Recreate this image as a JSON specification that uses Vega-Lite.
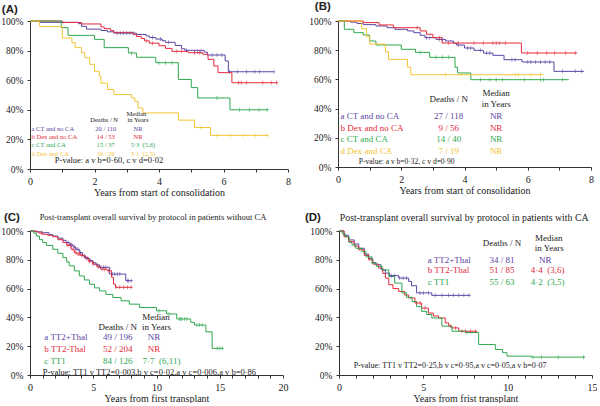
{
"$schema": "https://vega.github.io/schema/vega-lite/v6.json",
"background": "white",
"padding": {"left": 0, "top": 0, "right": 0, "bottom": 0},
"spacing": 15,
"config": {
 "font": "Liberation Serif",
 "view": {"stroke": null},
 "axis": {"grid": false, "domainColor": "#333", "tickColor": "#333", "tickSize": 3, "labelFont": "Liberation Serif", "labelFontSize": 10, "labelColor": "#222", "titleFont": "Liberation Serif", "titleFontSize": 10, "titleFontWeight": "normal", "titleColor": "#222", "labelPadding": 4},
 "axisX": {"titlePadding": 1, "labelFlush": false, "labelOverlap": false},
 "axisY": {"labelPadding": 4, "labelFontSize": 9.5},
 "title": {"font": "Liberation Sans", "fontWeight": "bold", "fontSize": 11.5, "anchor": "start", "color": "#222", "frame": "bounds"},
 "text": {"font": "Liberation Serif", "baseline": "middle"},
 "tick": {"yOffset": -1.2}
},
"datasets": {
 "curves": [
  {"p":"A","g":"a","t":0,"s":100},{"p":"A","g":"a","t":0.3,"s":99.1},{"p":"A","g":"a","t":1.5,"s":98.2},{"p":"A","g":"a","t":1.6,"s":96.4},{"p":"A","g":"a","t":1.75,"s":94.5},{"p":"A","g":"a","t":2.2,"s":93.6},{"p":"A","g":"a","t":2.4,"s":92.7},{"p":"A","g":"a","t":2.6,"s":91.8},{"p":"A","g":"a","t":3.3,"s":90.9},{"p":"A","g":"a","t":3.6,"s":89.9},{"p":"A","g":"a","t":3.7,"s":88.9},{"p":"A","g":"a","t":3.9,"s":87.8},{"p":"A","g":"a","t":4.1,"s":86.7},{"p":"A","g":"a","t":4.2,"s":85.6},{"p":"A","g":"a","t":4.5,"s":83.5},{"p":"A","g":"a","t":4.7,"s":81.3},{"p":"A","g":"a","t":4.8,"s":80.2},{"p":"A","g":"a","t":5.4,"s":79},{"p":"A","g":"a","t":5.5,"s":77},{"p":"A","g":"a","t":6.05,"s":73},{"p":"A","g":"a","t":6.15,"s":65.7},{"p":"A","g":"a","t":7.57,"s":65.7},
  {"p":"A","g":"b","t":0,"s":100},{"p":"A","g":"b","t":1.0,"s":99},{"p":"A","g":"b","t":1.6,"s":98},{"p":"A","g":"b","t":2.2,"s":96},{"p":"A","g":"b","t":2.3,"s":94.8},{"p":"A","g":"b","t":2.5,"s":93.5},{"p":"A","g":"b","t":2.6,"s":92.3},{"p":"A","g":"b","t":3.2,"s":91},{"p":"A","g":"b","t":3.3,"s":89.6},{"p":"A","g":"b","t":3.45,"s":88.2},{"p":"A","g":"b","t":3.55,"s":86.6},{"p":"A","g":"b","t":3.7,"s":85},{"p":"A","g":"b","t":4.0,"s":83.3},{"p":"A","g":"b","t":4.2,"s":81.5},{"p":"A","g":"b","t":4.4,"s":79.5},{"p":"A","g":"b","t":4.9,"s":78.6},{"p":"A","g":"b","t":5.36,"s":77.5},{"p":"A","g":"b","t":5.52,"s":74.1},{"p":"A","g":"b","t":5.7,"s":69.6},{"p":"A","g":"b","t":5.83,"s":65.1},{"p":"A","g":"b","t":6.26,"s":58.3},{"p":"A","g":"b","t":7.69,"s":58.3},
  {"p":"A","g":"c","t":0,"s":100},{"p":"A","g":"c","t":0.97,"s":95.5},{"p":"A","g":"c","t":1.18,"s":90.3},{"p":"A","g":"c","t":2.0,"s":87.6},{"p":"A","g":"c","t":2.3,"s":82},{"p":"A","g":"c","t":3.05,"s":78.4},{"p":"A","g":"c","t":3.3,"s":75.5},{"p":"A","g":"c","t":3.9,"s":71.8},{"p":"A","g":"c","t":4.6,"s":60.5},{"p":"A","g":"c","t":5.0,"s":55},{"p":"A","g":"c","t":5.2,"s":48},{"p":"A","g":"c","t":6.2,"s":40},{"p":"A","g":"c","t":7.4,"s":40},
  {"p":"A","g":"d","t":0,"s":100},{"p":"A","g":"d","t":0.3,"s":96.2},{"p":"A","g":"d","t":1.0,"s":88.5},{"p":"A","g":"d","t":1.3,"s":85.3},{"p":"A","g":"d","t":1.4,"s":82},{"p":"A","g":"d","t":1.6,"s":78.5},{"p":"A","g":"d","t":1.7,"s":75.2},{"p":"A","g":"d","t":1.85,"s":70.7},{"p":"A","g":"d","t":2.0,"s":66},{"p":"A","g":"d","t":2.15,"s":62.8},{"p":"A","g":"d","t":2.2,"s":58},{"p":"A","g":"d","t":2.4,"s":53.7},{"p":"A","g":"d","t":2.6,"s":50.3},{"p":"A","g":"d","t":3.15,"s":48},{"p":"A","g":"d","t":3.25,"s":45.8},{"p":"A","g":"d","t":3.35,"s":41.3},{"p":"A","g":"d","t":3.5,"s":37.9},{"p":"A","g":"d","t":4.6,"s":33},{"p":"A","g":"d","t":5.1,"s":28},{"p":"A","g":"d","t":5.6,"s":22.7},{"p":"A","g":"d","t":7.4,"s":22.7},
  {"p":"B","g":"a","t":0,"s":100},{"p":"B","g":"a","t":0.4,"s":99.2},{"p":"B","g":"a","t":0.6,"s":98.3},{"p":"B","g":"a","t":0.8,"s":97.5},{"p":"B","g":"a","t":1.2,"s":96.6},{"p":"B","g":"a","t":1.55,"s":95.4},{"p":"B","g":"a","t":1.8,"s":94.3},{"p":"B","g":"a","t":2.2,"s":93.2},{"p":"B","g":"a","t":2.4,"s":92},{"p":"B","g":"a","t":2.6,"s":90.2},{"p":"B","g":"a","t":2.75,"s":88.6},{"p":"B","g":"a","t":3.1,"s":87.4},{"p":"B","g":"a","t":3.4,"s":86.3},{"p":"B","g":"a","t":3.65,"s":84.8},{"p":"B","g":"a","t":3.75,"s":83.5},{"p":"B","g":"a","t":4.0,"s":81.5},{"p":"B","g":"a","t":4.3,"s":79.9},{"p":"B","g":"a","t":4.6,"s":78},{"p":"B","g":"a","t":4.9,"s":76.5},{"p":"B","g":"a","t":5.25,"s":73.5},{"p":"B","g":"a","t":5.82,"s":71.9},{"p":"B","g":"a","t":6.83,"s":65.5},{"p":"B","g":"a","t":7.78,"s":65.5},
  {"p":"B","g":"b","t":0,"s":100},{"p":"B","g":"b","t":0.8,"s":98.9},{"p":"B","g":"b","t":1.3,"s":97.3},{"p":"B","g":"b","t":1.75,"s":95.4},{"p":"B","g":"b","t":2.6,"s":93.2},{"p":"B","g":"b","t":2.8,"s":90.9},{"p":"B","g":"b","t":3.0,"s":88.6},{"p":"B","g":"b","t":3.29,"s":84.9},{"p":"B","g":"b","t":5.8,"s":78.1},{"p":"B","g":"b","t":7.56,"s":78.1},
  {"p":"B","g":"c","t":0,"s":100},{"p":"B","g":"c","t":0.2,"s":94.3},{"p":"B","g":"c","t":0.5,"s":92},{"p":"B","g":"c","t":0.8,"s":90.4},{"p":"B","g":"c","t":1.0,"s":86.3},{"p":"B","g":"c","t":1.2,"s":83.6},{"p":"B","g":"c","t":2.0,"s":80.6},{"p":"B","g":"c","t":2.45,"s":78.5},{"p":"B","g":"c","t":2.9,"s":75.1},{"p":"B","g":"c","t":3.7,"s":68.3},{"p":"B","g":"c","t":3.78,"s":64.4},{"p":"B","g":"c","t":4.2,"s":59.8},{"p":"B","g":"c","t":7.3,"s":59.8},
  {"p":"B","g":"d","t":0,"s":100},{"p":"B","g":"d","t":0.75,"s":94.7},{"p":"B","g":"d","t":0.9,"s":89.5},{"p":"B","g":"d","t":1.0,"s":84.2},{"p":"B","g":"d","t":1.5,"s":78.9},{"p":"B","g":"d","t":1.6,"s":73.7},{"p":"B","g":"d","t":2.2,"s":68.4},{"p":"B","g":"d","t":2.3,"s":63.2},{"p":"B","g":"d","t":6.5,"s":63.2},
  {"p":"C","g":"a","t":0,"s":100},{"p":"C","g":"a","t":0.5,"s":99.4},{"p":"C","g":"a","t":1.0,"s":98.8},{"p":"C","g":"a","t":1.5,"s":97.5},{"p":"C","g":"a","t":1.8,"s":96.5},{"p":"C","g":"a","t":2.2,"s":95},{"p":"C","g":"a","t":2.6,"s":93.5},{"p":"C","g":"a","t":2.85,"s":92},{"p":"C","g":"a","t":3.1,"s":90.5},{"p":"C","g":"a","t":3.4,"s":89},{"p":"C","g":"a","t":3.6,"s":87.3},{"p":"C","g":"a","t":3.9,"s":85},{"p":"C","g":"a","t":4.15,"s":82.7},{"p":"C","g":"a","t":4.4,"s":81},{"p":"C","g":"a","t":4.7,"s":79.5},{"p":"C","g":"a","t":4.95,"s":78},{"p":"C","g":"a","t":5.2,"s":76.5},{"p":"C","g":"a","t":5.5,"s":74.8},{"p":"C","g":"a","t":6.3,"s":70.1},{"p":"C","g":"a","t":7.57,"s":65.5},{"p":"C","g":"a","t":8.1,"s":65.5},
  {"p":"C","g":"b","t":0,"s":100},{"p":"C","g":"b","t":0.4,"s":99.5},{"p":"C","g":"b","t":0.7,"s":98.6},{"p":"C","g":"b","t":1.0,"s":97.7},{"p":"C","g":"b","t":1.4,"s":97},{"p":"C","g":"b","t":1.8,"s":96},{"p":"C","g":"b","t":2.2,"s":94},{"p":"C","g":"b","t":2.6,"s":92},{"p":"C","g":"b","t":2.9,"s":90},{"p":"C","g":"b","t":3.25,"s":87.3},{"p":"C","g":"b","t":3.5,"s":85},{"p":"C","g":"b","t":3.7,"s":84},{"p":"C","g":"b","t":4.0,"s":83},{"p":"C","g":"b","t":4.3,"s":81.5},{"p":"C","g":"b","t":4.6,"s":79},{"p":"C","g":"b","t":4.95,"s":77},{"p":"C","g":"b","t":5.3,"s":75},{"p":"C","g":"b","t":5.6,"s":73.5},{"p":"C","g":"b","t":6.1,"s":72.4},{"p":"C","g":"b","t":6.45,"s":67.8},{"p":"C","g":"b","t":6.6,"s":63.2},{"p":"C","g":"b","t":6.75,"s":60.9},{"p":"C","g":"b","t":8.1,"s":60.9},
  {"p":"C","g":"c","t":0,"s":100},{"p":"C","g":"c","t":0.3,"s":98.5},{"p":"C","g":"c","t":0.5,"s":96.5},{"p":"C","g":"c","t":0.75,"s":94},{"p":"C","g":"c","t":1.0,"s":92},{"p":"C","g":"c","t":1.3,"s":90},{"p":"C","g":"c","t":1.8,"s":87.3},{"p":"C","g":"c","t":2.2,"s":84.5},{"p":"C","g":"c","t":2.6,"s":81.5},{"p":"C","g":"c","t":2.9,"s":78.5},{"p":"C","g":"c","t":3.1,"s":75.8},{"p":"C","g":"c","t":3.5,"s":72.3},{"p":"C","g":"c","t":3.9,"s":68.8},{"p":"C","g":"c","t":4.3,"s":66},{"p":"C","g":"c","t":4.7,"s":63},{"p":"C","g":"c","t":5.1,"s":60.5},{"p":"C","g":"c","t":5.5,"s":58.4},{"p":"C","g":"c","t":6.0,"s":56},{"p":"C","g":"c","t":6.55,"s":53.8},{"p":"C","g":"c","t":7.2,"s":51.5},{"p":"C","g":"c","t":7.85,"s":49.2},{"p":"C","g":"c","t":8.65,"s":46.9},{"p":"C","g":"c","t":10.0,"s":44.6},{"p":"C","g":"c","t":10.8,"s":42.4},{"p":"C","g":"c","t":11.6,"s":38.9},{"p":"C","g":"c","t":12.7,"s":36.6},{"p":"C","g":"c","t":13.0,"s":34.7},{"p":"C","g":"c","t":13.9,"s":30},{"p":"C","g":"c","t":14.4,"s":18.5},{"p":"C","g":"c","t":15.3,"s":18.5},
  {"p":"D","g":"a","t":0,"s":100},{"p":"D","g":"a","t":0.3,"s":97},{"p":"D","g":"a","t":0.57,"s":93.8},{"p":"D","g":"a","t":0.9,"s":91},{"p":"D","g":"a","t":1.17,"s":88},{"p":"D","g":"a","t":1.5,"s":84},{"p":"D","g":"a","t":1.76,"s":81},{"p":"D","g":"a","t":2.0,"s":78},{"p":"D","g":"a","t":2.2,"s":76.5},{"p":"D","g":"a","t":2.5,"s":73},{"p":"D","g":"a","t":2.75,"s":70.7},{"p":"D","g":"a","t":3.0,"s":69},{"p":"D","g":"a","t":3.54,"s":67.3},{"p":"D","g":"a","t":4.13,"s":65},{"p":"D","g":"a","t":4.3,"s":62},{"p":"D","g":"a","t":4.6,"s":57},{"p":"D","g":"a","t":5.5,"s":55.3},{"p":"D","g":"a","t":7.8,"s":55.3},
  {"p":"D","g":"b","t":0,"s":100},{"p":"D","g":"b","t":0.3,"s":96},{"p":"D","g":"b","t":0.57,"s":92.6},{"p":"D","g":"b","t":0.9,"s":89.5},{"p":"D","g":"b","t":1.17,"s":86.9},{"p":"D","g":"b","t":1.5,"s":83},{"p":"D","g":"b","t":1.76,"s":80},{"p":"D","g":"b","t":2.0,"s":77},{"p":"D","g":"b","t":2.35,"s":74.2},{"p":"D","g":"b","t":2.6,"s":70.5},{"p":"D","g":"b","t":2.75,"s":67.3},{"p":"D","g":"b","t":2.95,"s":62.7},{"p":"D","g":"b","t":3.2,"s":60},{"p":"D","g":"b","t":3.54,"s":58},{"p":"D","g":"b","t":3.9,"s":55.5},{"p":"D","g":"b","t":4.13,"s":53.5},{"p":"D","g":"b","t":4.5,"s":50},{"p":"D","g":"b","t":4.9,"s":46.5},{"p":"D","g":"b","t":5.3,"s":43},{"p":"D","g":"b","t":5.6,"s":41},{"p":"D","g":"b","t":5.9,"s":39.6},{"p":"D","g":"b","t":6.3,"s":36.2},{"p":"D","g":"b","t":6.5,"s":34},{"p":"D","g":"b","t":6.7,"s":32.7},{"p":"D","g":"b","t":7.1,"s":30.4},{"p":"D","g":"b","t":8.2,"s":30.4},
  {"p":"D","g":"c","t":0,"s":100},{"p":"D","g":"c","t":0.2,"s":98},{"p":"D","g":"c","t":0.38,"s":96},{"p":"D","g":"c","t":0.6,"s":92},{"p":"D","g":"c","t":0.77,"s":90.3},{"p":"D","g":"c","t":1.0,"s":88},{"p":"D","g":"c","t":1.36,"s":85.7},{"p":"D","g":"c","t":1.6,"s":82},{"p":"D","g":"c","t":1.96,"s":77.6},{"p":"D","g":"c","t":2.2,"s":75.5},{"p":"D","g":"c","t":2.55,"s":73},{"p":"D","g":"c","t":2.95,"s":68.4},{"p":"D","g":"c","t":3.3,"s":63.8},{"p":"D","g":"c","t":3.73,"s":57},{"p":"D","g":"c","t":4.0,"s":54},{"p":"D","g":"c","t":4.33,"s":51},{"p":"D","g":"c","t":4.6,"s":47.5},{"p":"D","g":"c","t":4.9,"s":44.2},{"p":"D","g":"c","t":5.2,"s":42},{"p":"D","g":"c","t":5.5,"s":39.6},{"p":"D","g":"c","t":6.1,"s":33.9},{"p":"D","g":"c","t":6.7,"s":30.4},{"p":"D","g":"c","t":7.5,"s":29.5},{"p":"D","g":"c","t":8.28,"s":21.2},{"p":"D","g":"c","t":9.27,"s":17.7},{"p":"D","g":"c","t":9.7,"s":15.5},{"p":"D","g":"c","t":9.96,"s":13.1},{"p":"D","g":"c","t":11.4,"s":12.4},{"p":"D","g":"c","t":14.6,"s":12.4}
 ],
 "censor": [
  {"p":"A","g":"a","t":2.7,"s":91.8},{"p":"A","g":"a","t":2.8,"s":91.8},{"p":"A","g":"a","t":2.9,"s":91.8},{"p":"A","g":"a","t":3.0,"s":91.8},{"p":"A","g":"a","t":3.1,"s":91.8},{"p":"A","g":"a","t":3.2,"s":91.8},{"p":"A","g":"a","t":3.8,"s":88.9},{"p":"A","g":"a","t":4.05,"s":87.8},{"p":"A","g":"a","t":4.3,"s":85.6},{"p":"A","g":"a","t":4.85,"s":80.2},{"p":"A","g":"a","t":5.1,"s":79},{"p":"A","g":"a","t":5.2,"s":79},{"p":"A","g":"a","t":5.3,"s":79},{"p":"A","g":"a","t":5.65,"s":77},{"p":"A","g":"a","t":5.8,"s":77},{"p":"A","g":"a","t":5.95,"s":77},{"p":"A","g":"a","t":6.19,"s":65.7},{"p":"A","g":"a","t":6.43,"s":65.7},{"p":"A","g":"a","t":6.71,"s":65.7},{"p":"A","g":"a","t":6.97,"s":65.7},{"p":"A","g":"a","t":7.12,"s":65.7},{"p":"A","g":"a","t":7.57,"s":65.7},
  {"p":"A","g":"b","t":3.6,"s":86.6},{"p":"A","g":"b","t":3.8,"s":85},{"p":"A","g":"b","t":4.55,"s":79.5},{"p":"A","g":"b","t":4.7,"s":79.5},{"p":"A","g":"b","t":5.1,"s":78.6},{"p":"A","g":"b","t":5.25,"s":78.6},{"p":"A","g":"b","t":6.47,"s":58.3},{"p":"A","g":"b","t":6.55,"s":58.3},{"p":"A","g":"b","t":6.71,"s":58.3},{"p":"A","g":"b","t":7.22,"s":58.3},{"p":"A","g":"b","t":7.48,"s":58.3},{"p":"A","g":"b","t":7.64,"s":58.3},
  {"p":"A","g":"c","t":3.15,"s":78.4},{"p":"A","g":"c","t":4.0,"s":71.8},{"p":"A","g":"c","t":4.2,"s":71.8},{"p":"A","g":"c","t":4.4,"s":71.8},{"p":"A","g":"c","t":5.8,"s":48},{"p":"A","g":"c","t":6.5,"s":40},{"p":"A","g":"c","t":6.8,"s":40},{"p":"A","g":"c","t":7.1,"s":40},{"p":"A","g":"c","t":7.35,"s":40},
  {"p":"A","g":"d","t":5.3,"s":28},{"p":"A","g":"d","t":5.8,"s":22.7},{"p":"A","g":"d","t":6.2,"s":22.7},{"p":"A","g":"d","t":6.6,"s":22.7},{"p":"A","g":"d","t":7.0,"s":22.7},{"p":"A","g":"d","t":7.35,"s":22.7},
  {"p":"B","g":"a","t":2.8,"s":88.6},{"p":"B","g":"a","t":2.9,"s":88.6},{"p":"B","g":"a","t":3.2,"s":87.4},{"p":"B","g":"a","t":3.3,"s":87.4},{"p":"B","g":"a","t":3.8,"s":83.5},{"p":"B","g":"a","t":4.1,"s":81.5},{"p":"B","g":"a","t":4.2,"s":81.5},{"p":"B","g":"a","t":4.5,"s":79.9},{"p":"B","g":"a","t":4.7,"s":78},{"p":"B","g":"a","t":4.8,"s":78},{"p":"B","g":"a","t":5.5,"s":73.5},{"p":"B","g":"a","t":5.6,"s":73.5},{"p":"B","g":"a","t":6.0,"s":71.9},{"p":"B","g":"a","t":6.1,"s":71.9},{"p":"B","g":"a","t":6.25,"s":71.9},{"p":"B","g":"a","t":6.4,"s":71.9},{"p":"B","g":"a","t":6.55,"s":71.9},{"p":"B","g":"a","t":6.7,"s":71.9},{"p":"B","g":"a","t":7.1,"s":65.5},{"p":"B","g":"a","t":7.5,"s":65.5},{"p":"B","g":"a","t":7.7,"s":65.5},
  {"p":"B","g":"b","t":2.5,"s":95.4},{"p":"B","g":"b","t":3.2,"s":88.6},{"p":"B","g":"b","t":3.5,"s":84.9},{"p":"B","g":"b","t":3.8,"s":84.9},{"p":"B","g":"b","t":4.3,"s":84.9},{"p":"B","g":"b","t":4.6,"s":84.9},{"p":"B","g":"b","t":4.9,"s":84.9},{"p":"B","g":"b","t":5.0,"s":84.9},{"p":"B","g":"b","t":5.1,"s":84.9},{"p":"B","g":"b","t":5.3,"s":84.9},{"p":"B","g":"b","t":6.0,"s":78.1},{"p":"B","g":"b","t":6.3,"s":78.1},{"p":"B","g":"b","t":6.6,"s":78.1},{"p":"B","g":"b","t":6.85,"s":78.1},{"p":"B","g":"b","t":7.2,"s":78.1},{"p":"B","g":"b","t":7.5,"s":78.1},
  {"p":"B","g":"c","t":2.6,"s":78.5},{"p":"B","g":"c","t":3.1,"s":75.1},{"p":"B","g":"c","t":3.3,"s":75.1},{"p":"B","g":"c","t":3.5,"s":75.1},{"p":"B","g":"c","t":4.5,"s":59.8},{"p":"B","g":"c","t":4.8,"s":59.8},{"p":"B","g":"c","t":5.0,"s":59.8},{"p":"B","g":"c","t":5.2,"s":59.8},{"p":"B","g":"c","t":5.9,"s":59.8},{"p":"B","g":"c","t":6.4,"s":59.8},{"p":"B","g":"c","t":6.5,"s":59.8},{"p":"B","g":"c","t":7.1,"s":59.8},
  {"p":"B","g":"d","t":3.4,"s":63.2},{"p":"B","g":"d","t":3.9,"s":63.2},{"p":"B","g":"d","t":5.6,"s":63.2},{"p":"B","g":"d","t":5.7,"s":63.2},{"p":"B","g":"d","t":6.1,"s":63.2},{"p":"B","g":"d","t":6.4,"s":63.2},
  {"p":"C","g":"a","t":3.0,"s":92},{"p":"C","g":"a","t":3.2,"s":90.5},{"p":"C","g":"a","t":3.3,"s":90.5},{"p":"C","g":"a","t":3.5,"s":89},{"p":"C","g":"a","t":3.7,"s":87.3},{"p":"C","g":"a","t":3.8,"s":87.3},{"p":"C","g":"a","t":4.0,"s":85},{"p":"C","g":"a","t":4.3,"s":82.7},{"p":"C","g":"a","t":4.5,"s":81},{"p":"C","g":"a","t":4.8,"s":79.5},{"p":"C","g":"a","t":5.0,"s":78},{"p":"C","g":"a","t":5.3,"s":76.5},{"p":"C","g":"a","t":5.6,"s":74.8},{"p":"C","g":"a","t":5.8,"s":74.8},{"p":"C","g":"a","t":6.0,"s":74.8},{"p":"C","g":"a","t":6.5,"s":70.1},{"p":"C","g":"a","t":6.7,"s":70.1},{"p":"C","g":"a","t":6.9,"s":70.1},{"p":"C","g":"a","t":7.1,"s":70.1},{"p":"C","g":"a","t":7.7,"s":65.5},{"p":"C","g":"a","t":7.8,"s":65.5},{"p":"C","g":"a","t":8.0,"s":65.5},
  {"p":"C","g":"b","t":0.9,"s":98.6},{"p":"C","g":"b","t":3.0,"s":90},{"p":"C","g":"b","t":3.2,"s":90},{"p":"C","g":"b","t":3.4,"s":87.3},{"p":"C","g":"b","t":3.6,"s":85},{"p":"C","g":"b","t":3.8,"s":84},{"p":"C","g":"b","t":3.9,"s":84},{"p":"C","g":"b","t":4.1,"s":83},{"p":"C","g":"b","t":4.4,"s":81.5},{"p":"C","g":"b","t":4.7,"s":79},{"p":"C","g":"b","t":5.0,"s":77},{"p":"C","g":"b","t":5.4,"s":75},{"p":"C","g":"b","t":5.7,"s":73.5},{"p":"C","g":"b","t":5.9,"s":73.5},{"p":"C","g":"b","t":6.2,"s":72.4},{"p":"C","g":"b","t":6.8,"s":60.9},{"p":"C","g":"b","t":7.1,"s":60.9},{"p":"C","g":"b","t":7.4,"s":60.9},{"p":"C","g":"b","t":7.7,"s":60.9},{"p":"C","g":"b","t":8.0,"s":60.9},
  {"p":"C","g":"c","t":10.2,"s":44.6},{"p":"C","g":"c","t":11.0,"s":42.4},{"p":"C","g":"c","t":11.8,"s":38.9},{"p":"C","g":"c","t":11.9,"s":38.9},{"p":"C","g":"c","t":12.0,"s":38.9},{"p":"C","g":"c","t":12.2,"s":38.9},{"p":"C","g":"c","t":12.4,"s":38.9},{"p":"C","g":"c","t":13.2,"s":34.7},{"p":"C","g":"c","t":13.4,"s":34.7},{"p":"C","g":"c","t":13.6,"s":34.7},{"p":"C","g":"c","t":14.8,"s":18.5},{"p":"C","g":"c","t":15.0,"s":18.5},{"p":"C","g":"c","t":15.2,"s":18.5},
  {"p":"D","g":"a","t":3.1,"s":69},{"p":"D","g":"a","t":3.3,"s":69},{"p":"D","g":"a","t":3.6,"s":67.3},{"p":"D","g":"a","t":3.8,"s":67.3},{"p":"D","g":"a","t":4.0,"s":67.3},{"p":"D","g":"a","t":4.8,"s":57},{"p":"D","g":"a","t":5.0,"s":57},{"p":"D","g":"a","t":5.3,"s":57},{"p":"D","g":"a","t":5.7,"s":55.3},{"p":"D","g":"a","t":6.1,"s":55.3},{"p":"D","g":"a","t":6.5,"s":55.3},{"p":"D","g":"a","t":6.8,"s":55.3},{"p":"D","g":"a","t":7.1,"s":55.3},{"p":"D","g":"a","t":7.4,"s":55.3},{"p":"D","g":"a","t":7.7,"s":55.3},
  {"p":"D","g":"b","t":4.6,"s":50},{"p":"D","g":"b","t":4.8,"s":50},{"p":"D","g":"b","t":5.1,"s":46.5},{"p":"D","g":"b","t":6.6,"s":34},{"p":"D","g":"b","t":6.9,"s":32.7},{"p":"D","g":"b","t":7.3,"s":30.4},{"p":"D","g":"b","t":7.5,"s":30.4},{"p":"D","g":"b","t":7.8,"s":30.4},{"p":"D","g":"b","t":8.1,"s":30.4},
  {"p":"D","g":"c","t":7.6,"s":29.5},{"p":"D","g":"c","t":11.5,"s":12.4},{"p":"D","g":"c","t":12.0,"s":12.4},{"p":"D","g":"c","t":13.0,"s":12.4},{"p":"D","g":"c","t":14.5,"s":12.4}
 ],
 "texts": [
  {"p":"A","k":"head","g":"k","t":2.3,"s":33.4,"label":"Deaths / N"},{"p":"A","k":"head","g":"k","t":3.3,"s":37.2,"label":"Median"},{"p":"A","k":"head","g":"k","t":3.35,"s":33,"label":"in Years"},
  {"p":"A","k":"row","g":"a","t":0.05,"s":27.3,"label":"a CT and no CA"},{"p":"A","k":"row","g":"b","t":0.05,"s":21.5,"label":"b Dex and no CA"},{"p":"A","k":"row","g":"c","t":0.05,"s":16,"label":"c CT and CA"},{"p":"A","k":"row","g":"d","t":0.05,"s":10.3,"label":"d Dex and CA"},
  {"p":"A","k":"cell","g":"a","t":2.35,"s":27.3,"label":"20 / 110"},{"p":"A","k":"cell","g":"b","t":2.35,"s":21.5,"label":"14 / 53"},{"p":"A","k":"cell","g":"c","t":2.35,"s":16,"label":"15 / 37"},{"p":"A","k":"cell","g":"d","t":2.35,"s":10.3,"label":"19 / 26"},
  {"p":"A","k":"cell","g":"a","t":3.35,"s":27.3,"label":"NR"},{"p":"A","k":"cell","g":"b","t":3.35,"s":21.5,"label":"NR"},{"p":"A","k":"cell","g":"c","t":3.5,"s":16,"label":"5·3\u00a0\u00a0(5,6)"},{"p":"A","k":"cell","g":"d","t":3.5,"s":10.3,"label":"3·1\u00a0\u00a0(2,5)"},
  {"p":"A","k":"pval","g":"k","t":0.77,"s":5.9,"label":"P-value: a v b=0·60, c v d=0·02"},
  {"p":"B","k":"head","g":"k","t":3.5,"s":46.3,"label":"Deaths / N"},{"p":"B","k":"head","g":"k","t":5.0,"s":50.5,"label":"Median"},{"p":"B","k":"head","g":"k","t":5.0,"s":42.9,"label":"in Years"},
  {"p":"B","k":"row","g":"a","t":0.08,"s":34.9,"label":"a CT and no CA"},{"p":"B","k":"row","g":"b","t":0.08,"s":26.9,"label":"b Dex and no CA"},{"p":"B","k":"row","g":"c","t":0.08,"s":19,"label":"c CT and CA"},{"p":"B","k":"row","g":"d","t":0.08,"s":11,"label":"d Dex and CA"},
  {"p":"B","k":"cell","g":"a","t":3.5,"s":34.9,"label":"27 / 118"},{"p":"B","k":"cell","g":"b","t":3.5,"s":26.9,"label":"9 / 56"},{"p":"B","k":"cell","g":"c","t":3.5,"s":19,"label":"14 / 40"},{"p":"B","k":"cell","g":"d","t":3.5,"s":11,"label":"7 / 19"},
  {"p":"B","k":"cell","g":"a","t":5.0,"s":34.9,"label":"NR"},{"p":"B","k":"cell","g":"b","t":5.0,"s":26.9,"label":"NR"},{"p":"B","k":"cell","g":"c","t":5.0,"s":19,"label":"NR"},{"p":"B","k":"cell","g":"d","t":5.0,"s":11,"label":"NR"},
  {"p":"B","k":"pval","g":"k","t":0.66,"s":3.7,"label":"P-value: a v b=0·32, c v d=0·90"},
  {"p":"C","k":"tag","g":"k","t":-2.06,"s":109,"label":"(C)"},{"p":"C","k":"sub","g":"k","t":9.72,"s":110,"label":"Post-transplant overall survival by protocol in patients without CA"},
  {"p":"C","k":"head","g":"k","t":6.93,"s":33,"label":"Deaths / N"},{"p":"C","k":"head","g":"k","t":9.96,"s":40,"label":"Median"},{"p":"C","k":"head","g":"k","t":10.0,"s":33,"label":"in Years"},
  {"p":"C","k":"row","g":"a","t":1.13,"s":26.1,"label":"a TT2+Thal"},{"p":"C","k":"row","g":"b","t":1.13,"s":18,"label":"b TT2-Thal"},{"p":"C","k":"row","g":"c","t":1.13,"s":9.5,"label":"c TT1"},
  {"p":"C","k":"cell","g":"a","t":6.93,"s":26.1,"label":"49 / 196"},{"p":"C","k":"cell","g":"b","t":6.93,"s":18,"label":"52 / 204"},{"p":"C","k":"cell","g":"c","t":6.93,"s":9.5,"label":"84 / 126"},
  {"p":"C","k":"cell","g":"a","t":9.8,"s":26.1,"label":"NR"},{"p":"C","k":"cell","g":"b","t":9.8,"s":18,"label":"NR"},{"p":"C","k":"cell","g":"c","t":10.4,"s":9.5,"label":"7·7\u00a0\u00a0(6,11)"},
  {"p":"C","k":"pval","g":"k","t":1.0,"s":2.3,"label":"P-value: TT1 v TT2=0·003,b v c=0·02,a v c=0·006,a v b=0·86"},
  {"p":"D","k":"tag","g":"k","t":-2.02,"s":109,"label":"(D)"},{"p":"D","k":"sub","g":"k","t":7.42,"s":109,"label":"Post-transplant overall survival by protocol in patients with CA"},
  {"p":"D","k":"head","g":"k","t":9.66,"s":91.5,"label":"Deaths / N"},{"p":"D","k":"head","g":"k","t":12.43,"s":95.4,"label":"Median"},{"p":"D","k":"head","g":"k","t":12.47,"s":88.5,"label":"in Years"},
  {"p":"D","k":"row","g":"a","t":5.26,"s":80,"label":"a TT2+Thal"},{"p":"D","k":"row","g":"b","t":5.26,"s":73,"label":"b TT2-Thal"},{"p":"D","k":"row","g":"c","t":5.26,"s":64.3,"label":"c TT1"},
  {"p":"D","k":"cell","g":"a","t":9.66,"s":80,"label":"34 / 81"},{"p":"D","k":"cell","g":"b","t":9.66,"s":73,"label":"51 / 85"},{"p":"D","k":"cell","g":"c","t":9.66,"s":64.3,"label":"55 / 63"},
  {"p":"D","k":"cell","g":"a","t":12.23,"s":80,"label":"NR"},{"p":"D","k":"cell","g":"b","t":12.37,"s":73,"label":"4·4\u00a0\u00a0(3,6)"},{"p":"D","k":"cell","g":"c","t":12.37,"s":64.3,"label":"4·2\u00a0\u00a0(3,5)"},
  {"p":"D","k":"pval","g":"k","t":0.87,"s":6.2,"label":"P-value: TT1 v TT2=0·25,b v c=0·95,a v c=0·05,a v b=0·07"}
 ]
},
"vconcat": [
 {"spacing": 17, "hconcat": [
  {"width": 258, "height": 148, "title": {"text": "(A)", "offset": 1, "dx": 1},
   "encoding": {
    "x": {"field": "t", "type": "quantitative", "scale": {"domain": [0, 8], "nice": false, "zero": false}, "axis": {"title": "Years from start of consolidation", "values": [0,1,2,3,4,5,6,7,8], "labelExpr": "datum.value % 2 == 0 ? datum.label : ''"}},
    "y": {"field": "s", "type": "quantitative", "scale": {"domain": [0, 100], "nice": false}, "axis": {"title": null, "values": [0,20,40,60,80,100], "labelExpr": "datum.label + '%'"}},
    "color": {"field": "g", "type": "nominal", "scale": {"domain": ["a","b","c","d","k"], "range": ["#5c44a3","#e52a3b","#2fa84f","#f3c433","#222222"]}, "legend": null}
   },
   "layer": [
    {"data": {"name": "curves"}, "transform": [{"filter": "datum.p == 'A'"}], "mark": {"type": "line", "interpolate": "step-after", "strokeWidth": 1}},
    {"data": {"name": "censor"}, "transform": [{"filter": "datum.p == 'A'"}], "mark": {"type": "tick", "orient": "vertical", "size": 4, "thickness": 0.8}},
    {"data": {"name": "texts"}, "transform": [{"filter": "datum.p == 'A' && datum.k == 'row'"}], "mark": {"type": "text", "align": "left", "fontSize": 6.5}, "encoding": {"text": {"field": "label"}}},
    {"data": {"name": "texts"}, "transform": [{"filter": "datum.p == 'A' && (datum.k == 'cell' || datum.k == 'head')"}], "mark": {"type": "text", "align": "center", "fontSize": 6.5}, "encoding": {"text": {"field": "label"}}},
    {"data": {"name": "texts"}, "transform": [{"filter": "datum.p == 'A' && datum.k == 'pval'"}], "mark": {"type": "text", "align": "left", "fontSize": 8.5}, "encoding": {"text": {"field": "label"}}}
   ]},
  {"width": 253, "height": 146, "title": {"text": "(B)", "offset": 4, "dx": 6},
   "encoding": {
    "x": {"field": "t", "type": "quantitative", "scale": {"domain": [0, 8], "nice": false, "zero": false}, "axis": {"title": "Years from start of consolidation", "values": [0,1,2,3,4,5,6,7,8], "labelExpr": "datum.value % 2 == 0 ? datum.label : ''"}},
    "y": {"field": "s", "type": "quantitative", "scale": {"domain": [0, 100], "nice": false}, "axis": {"title": null, "values": [0,20,40,60,80,100], "labelExpr": "datum.label + '%'"}},
    "color": {"field": "g", "type": "nominal", "scale": {"domain": ["a","b","c","d","k"], "range": ["#5c44a3","#e52a3b","#2fa84f","#f3c433","#222222"]}, "legend": null}
   },
   "layer": [
    {"data": {"name": "curves"}, "transform": [{"filter": "datum.p == 'B'"}], "mark": {"type": "line", "interpolate": "step-after", "strokeWidth": 1}},
    {"data": {"name": "censor"}, "transform": [{"filter": "datum.p == 'B'"}], "mark": {"type": "tick", "orient": "vertical", "size": 4, "thickness": 0.8}},
    {"data": {"name": "texts"}, "transform": [{"filter": "datum.p == 'B' && datum.k == 'row'"}], "mark": {"type": "text", "align": "left", "fontSize": 9}, "encoding": {"text": {"field": "label"}}},
    {"data": {"name": "texts"}, "transform": [{"filter": "datum.p == 'B' && (datum.k == 'cell' || datum.k == 'head')"}], "mark": {"type": "text", "align": "center", "fontSize": 9}, "encoding": {"text": {"field": "label"}}},
    {"data": {"name": "texts"}, "transform": [{"filter": "datum.p == 'B' && datum.k == 'pval'"}], "mark": {"type": "text", "align": "left", "fontSize": 7.5}, "encoding": {"text": {"field": "label"}}}
   ]}
 ]},
 {"spacing": 16, "hconcat": [
  {"width": 253, "height": 144,
   "encoding": {
    "x": {"field": "t", "type": "quantitative", "scale": {"domain": [0, 20], "nice": false, "zero": false}, "axis": {"title": "Years from first transplant", "values": [0,1,2,3,4,5,6,7,8,9,10,11,12,13,14,15,16,17,18,19,20], "labelExpr": "datum.value % 5 == 0 ? datum.label : ''"}},
    "y": {"field": "s", "type": "quantitative", "scale": {"domain": [0, 100], "nice": false}, "axis": {"title": null, "values": [0,20,40,60,80,100], "labelExpr": "datum.label + '%'"}},
    "color": {"field": "g", "type": "nominal", "scale": {"domain": ["a","b","c","d","k"], "range": ["#5c44a3","#e52a3b","#2fa84f","#f3c433","#222222"]}, "legend": null}
   },
   "layer": [
    {"data": {"name": "curves"}, "transform": [{"filter": "datum.p == 'C'"}], "mark": {"type": "line", "interpolate": "step-after", "strokeWidth": 1}},
    {"data": {"name": "censor"}, "transform": [{"filter": "datum.p == 'C'"}], "mark": {"type": "tick", "orient": "vertical", "size": 4, "thickness": 0.8}},
    {"data": {"name": "texts"}, "transform": [{"filter": "datum.p == 'C' && datum.k == 'row'"}], "mark": {"type": "text", "align": "left", "fontSize": 9}, "encoding": {"text": {"field": "label"}}},
    {"data": {"name": "texts"}, "transform": [{"filter": "datum.p == 'C' && (datum.k == 'cell' || datum.k == 'head')"}], "mark": {"type": "text", "align": "center", "fontSize": 9}, "encoding": {"text": {"field": "label"}}},
    {"data": {"name": "texts"}, "transform": [{"filter": "datum.p == 'C' && datum.k == 'pval'"}], "mark": {"type": "text", "align": "left", "fontSize": 8.5}, "encoding": {"text": {"field": "label"}}},
    {"data": {"name": "texts"}, "transform": [{"filter": "datum.p == 'C' && datum.k == 'sub'"}], "mark": {"type": "text", "align": "center", "fontSize": 8.5}, "encoding": {"text": {"field": "label"}}},
    {"data": {"name": "texts"}, "transform": [{"filter": "datum.p == 'C' && datum.k == 'tag'"}], "mark": {"type": "text", "align": "left", "font": "Liberation Sans", "fontWeight": "bold", "fontSize": 11.5}, "encoding": {"text": {"field": "label"}}}
   ]},
  {"width": 253, "height": 144,
   "encoding": {
    "x": {"field": "t", "type": "quantitative", "scale": {"domain": [0, 15], "nice": false, "zero": false}, "axis": {"title": "Years from frist transplant", "values": [0,1,2,3,4,5,6,7,8,9,10,11,12,13,14,15], "labelExpr": "datum.value % 5 == 0 ? datum.label : ''"}},
    "y": {"field": "s", "type": "quantitative", "scale": {"domain": [0, 100], "nice": false}, "axis": {"title": null, "values": [0,20,40,60,80,100], "labelExpr": "datum.label + '%'"}},
    "color": {"field": "g", "type": "nominal", "scale": {"domain": ["a","b","c","d","k"], "range": ["#5c44a3","#e52a3b","#2fa84f","#f3c433","#222222"]}, "legend": null}
   },
   "layer": [
    {"data": {"name": "curves"}, "transform": [{"filter": "datum.p == 'D'"}], "mark": {"type": "line", "interpolate": "step-after", "strokeWidth": 1}},
    {"data": {"name": "censor"}, "transform": [{"filter": "datum.p == 'D'"}], "mark": {"type": "tick", "orient": "vertical", "size": 4, "thickness": 0.8}},
    {"data": {"name": "texts"}, "transform": [{"filter": "datum.p == 'D' && datum.k == 'row'"}], "mark": {"type": "text", "align": "left", "fontSize": 9}, "encoding": {"text": {"field": "label"}}},
    {"data": {"name": "texts"}, "transform": [{"filter": "datum.p == 'D' && (datum.k == 'cell' || datum.k == 'head')"}], "mark": {"type": "text", "align": "center", "fontSize": 9}, "encoding": {"text": {"field": "label"}}},
    {"data": {"name": "texts"}, "transform": [{"filter": "datum.p == 'D' && datum.k == 'pval'"}], "mark": {"type": "text", "align": "left", "fontSize": 8}, "encoding": {"text": {"field": "label"}}},
    {"data": {"name": "texts"}, "transform": [{"filter": "datum.p == 'D' && datum.k == 'sub'"}], "mark": {"type": "text", "align": "center", "fontSize": 9.8}, "encoding": {"text": {"field": "label"}}},
    {"data": {"name": "texts"}, "transform": [{"filter": "datum.p == 'D' && datum.k == 'tag'"}], "mark": {"type": "text", "align": "left", "font": "Liberation Sans", "fontWeight": "bold", "fontSize": 11.5}, "encoding": {"text": {"field": "label"}}}
   ]}
 ]}
]
}
